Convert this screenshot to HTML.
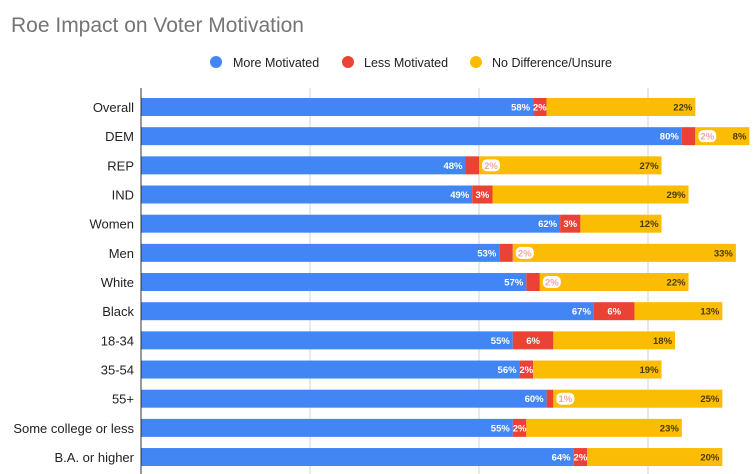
<!DOCTYPE html>
<html><head><meta charset="utf-8"><style>
body{margin:0;background:#fff;font-family:"Liberation Sans",Arial,sans-serif}
svg{display:block}
</style></head><body>
<svg id="chart" width="753" height="474">
<text x="11" y="32" font-size="21" fill="#757575">Roe Impact on Voter Motivation</text>
<g>
<g><circle cx="216" cy="62" r="6" fill="#4285F4"/><text x="233" y="67" font-size="12.5" fill="#222">More Motivated</text></g>
<g><circle cx="348" cy="62" r="6" fill="#EA4335"/><text x="364" y="67" font-size="12.5" fill="#222">Less Motivated</text></g>
<g><circle cx="476" cy="62" r="6" fill="#FBBC04"/><text x="492" y="67" font-size="12.5" fill="#222">No Difference/Unsure</text></g>
</g>
<g id="grid"></g>
<g id="bars"></g>
<g id="labels"></g>
<line x1="141" y1="88" x2="141" y2="474" stroke="#333" stroke-width="1"/>
</svg>
<script>
const categories=["Overall","DEM","REP","IND","Women","Men","White","Black","18-34","35-54","55+","Some college or less","B.A. or higher"];
const moreMotivated=[58,80,48,49,62,53,57,67,55,56,60,55,64];
const lessMotivated=[2,2,2,3,3,2,2,6,6,2,1,2,2];
const noDifference=[22,8,27,29,12,33,22,13,18,19,25,23,20];
const lessLabelOutside=[false,true,true,false,false,true,true,false,false,false,true,false,false];
const gridTicks=[0,25,50,75];
const NS="http://www.w3.org/2000/svg";
const x0=141, pxPer=6.76, y0=107, step=29.17, bh=18;
const xs=v=>x0+v*pxPer;
const yc=i=>y0+i*step;
function mk(tag,attrs,parent){const e=document.createElementNS(NS,tag);for(const k in attrs)e.setAttribute(k,attrs[k]);parent.appendChild(e);return e;}
const grid=document.getElementById('grid'),bars=document.getElementById('bars'),labels=document.getElementById('labels');
gridTicks.forEach(t=>{if(t===0)return;const l=mk('line',{x1:xs(t),x2:xs(t),y1:88,y2:474,stroke:'#d3d3d3','stroke-width':1},grid);

});
categories.forEach((c,i)=>{
 const y=yc(i);
 const t=mk('text',{x:134,y:y+5,'font-size':13,fill:'#222','text-anchor':'end'},labels);t.textContent=c;
 
 
 const segs=[[0,moreMotivated[i],'#4285F4'],[moreMotivated[i],lessMotivated[i],'#EA4335'],[moreMotivated[i]+lessMotivated[i],noDifference[i],'#FBBC04']];
 const names=['bar-more-motivated','bar-less-motivated','bar-no-difference'];
 segs.forEach((s,k)=>{
  const r=mk('rect',{x:xs(s[0]),y:y-bh/2,width:s[1]*pxPer,height:bh,fill:s[2]},bars);
  
  
 });
 const fs=9.5;
 let tx=mk('text',{x:xs(moreMotivated[i])-3,y:y+3.5,'font-size':fs,'font-weight':'bold',fill:'#fff','text-anchor':'end'},bars);tx.textContent=moreMotivated[i]+'%';
 
 
 const redEnd=xs(moreMotivated[i]+lessMotivated[i]);
 if(lessLabelOutside[i]){
  const bg=mk('rect',{x:redEnd+3,y:y-6,width:18,height:12,rx:5,fill:'#fff'},bars);
  
  
  tx=mk('text',{x:redEnd+12,y:y+3.5,'font-size':fs,'font-weight':'bold',fill:'#f4a6a0','text-anchor':'middle'},bars);
 } else {
  tx=mk('text',{x:(xs(moreMotivated[i])+redEnd)/2,y:y+3.5,'font-size':fs,'font-weight':'bold',fill:'#fff','text-anchor':'middle'},bars);
 }
 tx.textContent=lessMotivated[i]+'%';
 
 
 tx=mk('text',{x:xs(moreMotivated[i]+lessMotivated[i]+noDifference[i])-3,y:y+3.5,'font-size':fs,'font-weight':'bold',fill:'#4a3b00','text-anchor':'end'},bars);
 tx.textContent=noDifference[i]+'%';
 
 
});
</script>
</body></html>
